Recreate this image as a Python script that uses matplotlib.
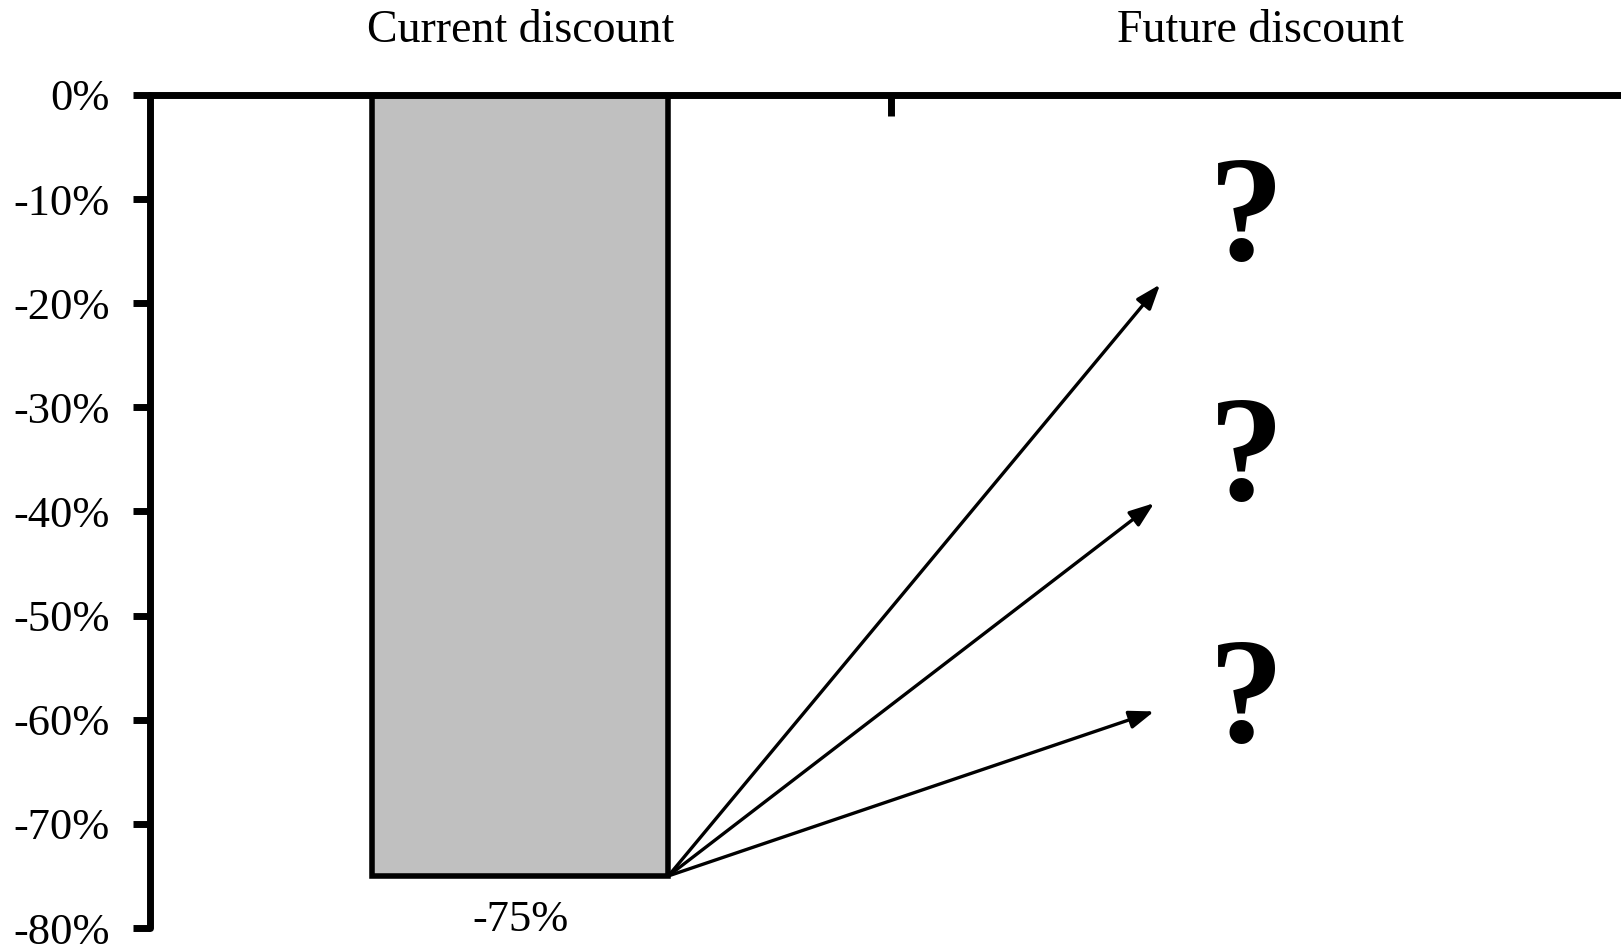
import matplotlib
matplotlib.use("Agg")
import matplotlib.pyplot as plt

# Data
categories = ["Current discount", "Future discount"]
current_discount = [-75]
y_ticks = [0, -10, -20, -30, -40, -50, -60, -70, -80]

# Possible future discount levels (arrow targets, %) and "?" marks beside them
arrow_targets = [-18.2, -39.2, -59.2]
arrow_target_x = [0.864, 0.856, 0.856]
question_y = [-12.3, -35.4, -58.6]

plt.rcParams["font.family"] = ["Liberation Serif", "DejaVu Serif"]

fig = plt.figure(figsize=(16.21, 9.46), dpi=100)
W, H = 1621, 946
ax = fig.add_axes([150 / W, 18 / H, (1631 - 150) / W, (928 - 95) / H])

bars = ax.bar([0], current_discount, width=0.4, color="#c0c0c0",
              edgecolor="black", linewidth=4, zorder=2)
ax.bar_label(bars, fmt="{:.0f}%", padding=17, fontsize=32)

# Arrows fanning out from the bottom-right corner of the bar
x0 = 0.2
y0 = current_discount[0]
for tx, ty in zip(arrow_target_x, arrow_targets):
    ax.annotate("", xy=(tx, ty), xytext=(x0, y0),
                arrowprops=dict(arrowstyle="-|>,head_length=1.5,head_width=0.55",
                                color="black", lw=2.4, shrinkA=0, shrinkB=0),
                zorder=3)

for qy in question_y:
    ax.text(0.98, qy, "?", ha="center", va="center", fontsize=108,
            fontweight="bold")

ax.set_xlim(-0.5, 1.5)
ax.set_ylim(-80, 0)

# Category axis sits at the top, at 0%
ax.xaxis.tick_top()
ax.set_xticks([0, 1])
ax.set_xticklabels(categories, fontsize=33)
ax.tick_params(axis="x", which="major", length=0, pad=31)
ax.set_xticks([0.5], minor=True)
ax.tick_params(axis="x", which="minor", direction="in", length=15, width=5)

ax.set_yticks(y_ticks)
ax.set_yticklabels([f"{v}%" for v in y_ticks], fontsize=32)
ax.tick_params(axis="y", direction="out", length=12, width=5, pad=17)

for side in ["bottom", "right"]:
    ax.spines[side].set_visible(False)
for side in ["top", "left"]:
    ax.spines[side].set_linewidth(5)
    ax.spines[side].set_capstyle("round")

fig.savefig("out.png", dpi=100)
